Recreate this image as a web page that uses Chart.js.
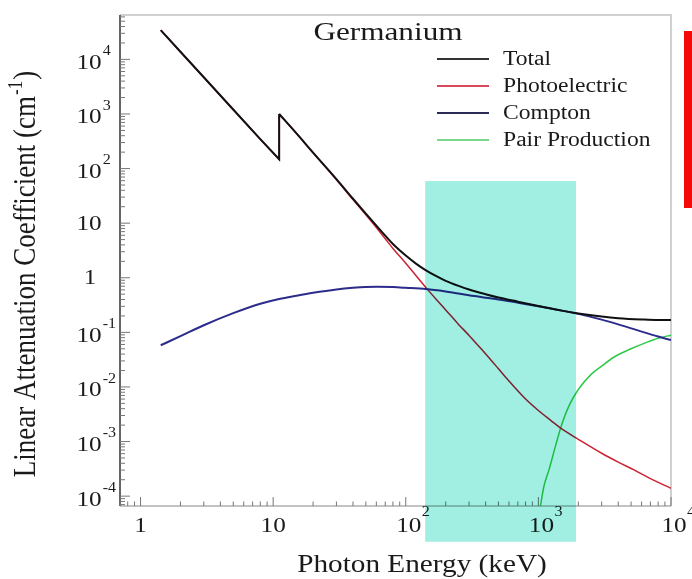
<!DOCTYPE html>
<html lang="en">
  <head>
    <meta charset="utf-8" />
    <title>Germanium attenuation</title>
    <style>
      * {
        margin: 0;
        padding: 0;
      }
      body {
        background: #fff;
      }
      .chartBox {
        width: 692px;
        height: 579px;
        position: relative;
      }
    </style>
  </head>
  <body>
    <div class="chartBox">
      <canvas id="myChart"></canvas>
    </div>

    <script src="https://cdn.jsdelivr.net/npm/chart.js"></script>

    <script>
      // data block (energies in keV, coefficients in cm^-1)
      const totalLowE = [1.42, 2, 3, 5, 8, 11.1, 11.1];
      const totalLow = [34400, 13800, 4700, 1210, 346, 148, 1000];
      const totalHighE = [11.1, 15, 20, 30, 40, 50, 60, 70, 80, 100, 120, 140, 170, 200, 250, 300, 400, 500, 700, 1000, 1500, 2000, 3000, 4000, 6000, 8000, 10000];
      const totalHigh = [1000, 440, 196, 64, 28, 15, 9.0, 5.9, 4.15, 2.55, 1.8, 1.4, 1.07, 0.88, 0.71, 0.61, 0.5, 0.435, 0.365, 0.305, 0.25, 0.222, 0.195, 0.182, 0.172, 0.168, 0.168];

      const photoLowE = [1.42, 2, 3, 5, 8, 11.1, 11.1];
      const photoLow = [34300, 13700, 4680, 1200, 343, 146, 995];
      const photoHighE = [11.1, 15, 20, 30, 40, 50, 60, 70, 80, 100, 120, 142, 170, 200, 250, 300, 370, 450, 500, 600, 780, 1000, 1250, 1500, 2000, 3000, 4000, 5300, 7000, 10000];
      const photoHigh = [995, 437, 194, 62.5, 27, 14.2, 8.3, 5.2, 3.45, 1.85, 1.08, 0.66, 0.4, 0.258, 0.14, 0.088, 0.05, 0.029, 0.0215, 0.0128, 0.0064, 0.0037, 0.0024, 0.0017, 0.0011, 0.00061, 0.00042, 0.0003, 0.00021, 0.000139];

      const comptonE = [1.42, 2, 3, 5, 8, 11.1, 15, 20, 30, 40, 50, 60, 80, 100, 142, 200, 300, 400, 500, 700, 1000, 1500, 2000, 3000, 4000, 6000, 8000, 10000];
      const compton = [0.058, 0.085, 0.135, 0.225, 0.335, 0.41, 0.47, 0.53, 0.61, 0.655, 0.68, 0.685, 0.675, 0.655, 0.62, 0.56, 0.48, 0.43, 0.4, 0.35, 0.3, 0.25, 0.218, 0.171, 0.14, 0.103, 0.084, 0.072];

      const pairE = [1030, 1100, 1200, 1350, 1480, 1700, 2000, 2500, 3000, 3700, 5000, 6700, 8000, 10000];
      const pair = [0.00006, 0.00015, 0.0003, 0.00085, 0.00185, 0.0045, 0.009, 0.017, 0.024, 0.035, 0.05, 0.067, 0.078, 0.089];

      // shaded energy window and its vertical extent
      const bandEnergy = [140, 1920];
      const bandCoef = [59, 1.46e-5];

      const legendLabels = ["Total", "Photoelectric", "Compton", "Pair Production"];
      const legendColors = ["#333333", "#d84a5a", "#2b2b55", "#7ad98e"];

      const toPoints = (xs, ys) => xs.map((x, i) => ({ x, y: ys[i] }));

      const SERIF = '"Liberation Serif", "Times New Roman", serif';
      function stretchText(ctx, str, x, y, size, align, sx) {
        ctx.save();
        ctx.translate(x, y);
        ctx.scale(sx, 1);
        ctx.font = size + "px " + SERIF;
        ctx.textAlign = align;
        ctx.textBaseline = "middle";
        ctx.fillText(str, 0, 0);
        ctx.restore();
      }
      function textWidth(ctx, str, size, sx) {
        ctx.save();
        ctx.font = size + "px " + SERIF;
        const w = ctx.measureText(str).width * sx;
        ctx.restore();
        return w;
      }

      // frame + inside tick marks
      const frame = {
        id: "frame",
        beforeDatasetsDraw(chart) {
          const {
            ctx,
            chartArea: { top, bottom, left, right },
            scales: { x, y },
          } = chart;
          ctx.save();
          ctx.lineWidth = 2;
          ctx.strokeStyle = "#d0d0d0";
          ctx.beginPath();
          ctx.moveTo(left, top);
          ctx.lineTo(right, top);
          ctx.lineTo(right, bottom);
          ctx.stroke();

          ctx.strokeStyle = "#666";
          ctx.beginPath();
          ctx.moveTo(left, top);
          ctx.lineTo(left, bottom);
          ctx.stroke();
          ctx.lineWidth = 1.2;
          ctx.strokeStyle = "#888";
          ctx.beginPath();
          ctx.moveTo(left, bottom);
          ctx.lineTo(right, bottom);
          ctx.stroke();

          ctx.lineWidth = 1;
          ctx.strokeStyle = "#777";
          const eachTick = (scale, fn) => {
            const lo = Math.floor(Math.log10(scale.min));
            const hi = Math.ceil(Math.log10(scale.max));
            for (let d = lo; d <= hi; d++) {
              for (let m = 1; m <= 9; m++) {
                const v = m * Math.pow(10, d);
                if (v >= scale.min && v <= scale.max) fn(scale.getPixelForValue(v), m === 1);
              }
            }
          };
          eachTick(x, (px, major) => {
            ctx.beginPath();
            ctx.moveTo(px, bottom);
            ctx.lineTo(px, bottom - (major ? 9 : 4.5));
            ctx.stroke();
          });
          eachTick(y, (py, major) => {
            ctx.beginPath();
            ctx.moveTo(left, py);
            ctx.lineTo(left + (major ? 10 : 5), py);
            ctx.stroke();
          });
          ctx.restore();
        },
        afterDraw(chart) {
          const {
            ctx,
            chartArea: { top, bottom, left, right },
            scales: { x, y },
          } = chart;
          ctx.save();
          ctx.fillStyle = "#1a1a1a";

          // y tick labels
          for (let e = -4; e <= 4; e++) {
            const py = y.getPixelForValue(Math.pow(10, e));
            if (e === 0) {
              stretchText(ctx, "1", 90, py + 1, 21, "center", 1.2);
            } else if (e === 1) {
              stretchText(ctx, "10", 76.5, py + 1, 21, "left", 1.2);
            } else {
              stretchText(ctx, "10", 76.5, py + 4, 21, "left", 1.2);
              const w = textWidth(ctx, "10", 21, 1.2);
              stretchText(ctx, String(e), 76.5 + w + 1, py - 8, 14, "left", 1.15);
            }
          }
          // x tick labels
          for (let e = 0; e <= 4; e++) {
            const px = x.getPixelForValue(Math.pow(10, e));
            if (e === 0) {
              stretchText(ctx, "1", px, 526, 21, "center", 1.2);
            } else if (e === 1) {
              stretchText(ctx, "10", px, 526, 21, "center", 1.2);
            } else {
              const w = textWidth(ctx, "10", 21, 1.2);
              stretchText(ctx, "10", px + 3, 526, 21, "center", 1.2);
              stretchText(ctx, String(e), px + 3 + w / 2 + 0.5, 512, 14, "left", 1.15);
            }
          }

          // axis titles
          stretchText(ctx, "Photon Energy (keV)", 422, 565, 25, "center", 1.17);
          ctx.save();
          ctx.translate(26.5, 274);
          ctx.rotate(-Math.PI / 2);
          ctx.scale(1, 1.18);
          const main = "Linear Attenuation Coefficient (cm";
          ctx.font = "27px " + SERIF;
          const w1 = ctx.measureText(main).width;
          ctx.font = "17px " + SERIF;
          const w2 = ctx.measureText("-1").width;
          ctx.font = "27px " + SERIF;
          const w3 = ctx.measureText(")").width;
          let cx = -(w1 + w2 + w3 + 2) / 2;
          ctx.textBaseline = "middle";
          ctx.textAlign = "left";
          ctx.fillText(main, cx, 0);
          cx += w1 + 1;
          ctx.font = "17px " + SERIF;
          ctx.fillText("-1", cx, -8);
          cx += w2 + 1;
          ctx.font = "27px " + SERIF;
          ctx.fillText(")", cx, 0);
          ctx.restore();

          // title + legend
          stretchText(ctx, "Germanium", 388, 33, 26, "center", 1.2);
          const rows = [60, 87, 114, 141];
          legendLabels.forEach((lab, i) => {
            ctx.strokeStyle = legendColors[i];
            ctx.lineWidth = 2;
            ctx.beginPath();
            ctx.moveTo(437, rows[i] - 1);
            ctx.lineTo(489, rows[i] - 1);
            ctx.stroke();
            ctx.fillStyle = "#1a1a1a";
            stretchText(ctx, lab, 503, rows[i], 20, "left", 1.18);
          });

          // shaded window, multiplied over everything below it
          const bx0 = x.getPixelForValue(bandEnergy[0]);
          const bx1 = x.getPixelForValue(bandEnergy[1]);
          const by0 = y.getPixelForValue(bandCoef[0]);
          const by1 = y.getPixelForValue(bandCoef[1]);
          ctx.globalCompositeOperation = "multiply";
          ctx.fillStyle = "#a0efe2";
          ctx.fillRect(bx0, by0, bx1 - bx0, by1 - by0);
          ctx.globalCompositeOperation = "source-over";

          // red marker bar on the right edge
          ctx.fillStyle = "#f50a0a";
          ctx.fillRect(684, 31, 8, 177);
          ctx.restore();
        },
      };

      // config block
      const config = {
        type: "line",
        data: {
          datasets: [
            { data: toPoints(totalLowE, totalLow), borderColor: "#111", borderWidth: 2, tension: 0 },
            { data: toPoints(totalHighE, totalHigh), borderColor: "#111", borderWidth: 2, cubicInterpolationMode: "monotone" },
            { data: toPoints(comptonE, compton), borderColor: "#2c2c8c", borderWidth: 2, cubicInterpolationMode: "monotone" },
            { data: toPoints(photoLowE, photoLow), borderColor: "#cc2233", borderWidth: 1.5, tension: 0 },
            { data: toPoints(photoHighE, photoHigh), borderColor: "#cc2233", borderWidth: 1.5, cubicInterpolationMode: "monotone" },
            { data: toPoints(pairE, pair), borderColor: "#2fc94a", borderWidth: 1.5, cubicInterpolationMode: "monotone" },
          ],
        },
        options: {
          responsive: true,
          maintainAspectRatio: false,
          animation: false,
          events: [],
          elements: { point: { radius: 0 } },
          layout: { padding: { top: 15, right: 21, left: 0, bottom: 0 } },
          scales: {
            x: {
              type: "logarithmic",
              min: 0.71,
              max: 10000,
              ticks: { display: false },
              grid: { display: false },
              border: { display: false },
              afterFit(scale) {
                scale.height = 73;
              },
            },
            y: {
              type: "logarithmic",
              min: 6.6e-5,
              max: 6.5e4,
              ticks: { display: false },
              grid: { display: false },
              border: { display: false },
              afterFit(scale) {
                scale.width = 120;
              },
            },
          },
          plugins: {
            legend: { display: false },
            tooltip: { enabled: false },
          },
        },
        plugins: [frame],
      };

      // init render block
      const myChart = new Chart(document.getElementById("myChart"), config);
    </script>
  </body>
</html>
